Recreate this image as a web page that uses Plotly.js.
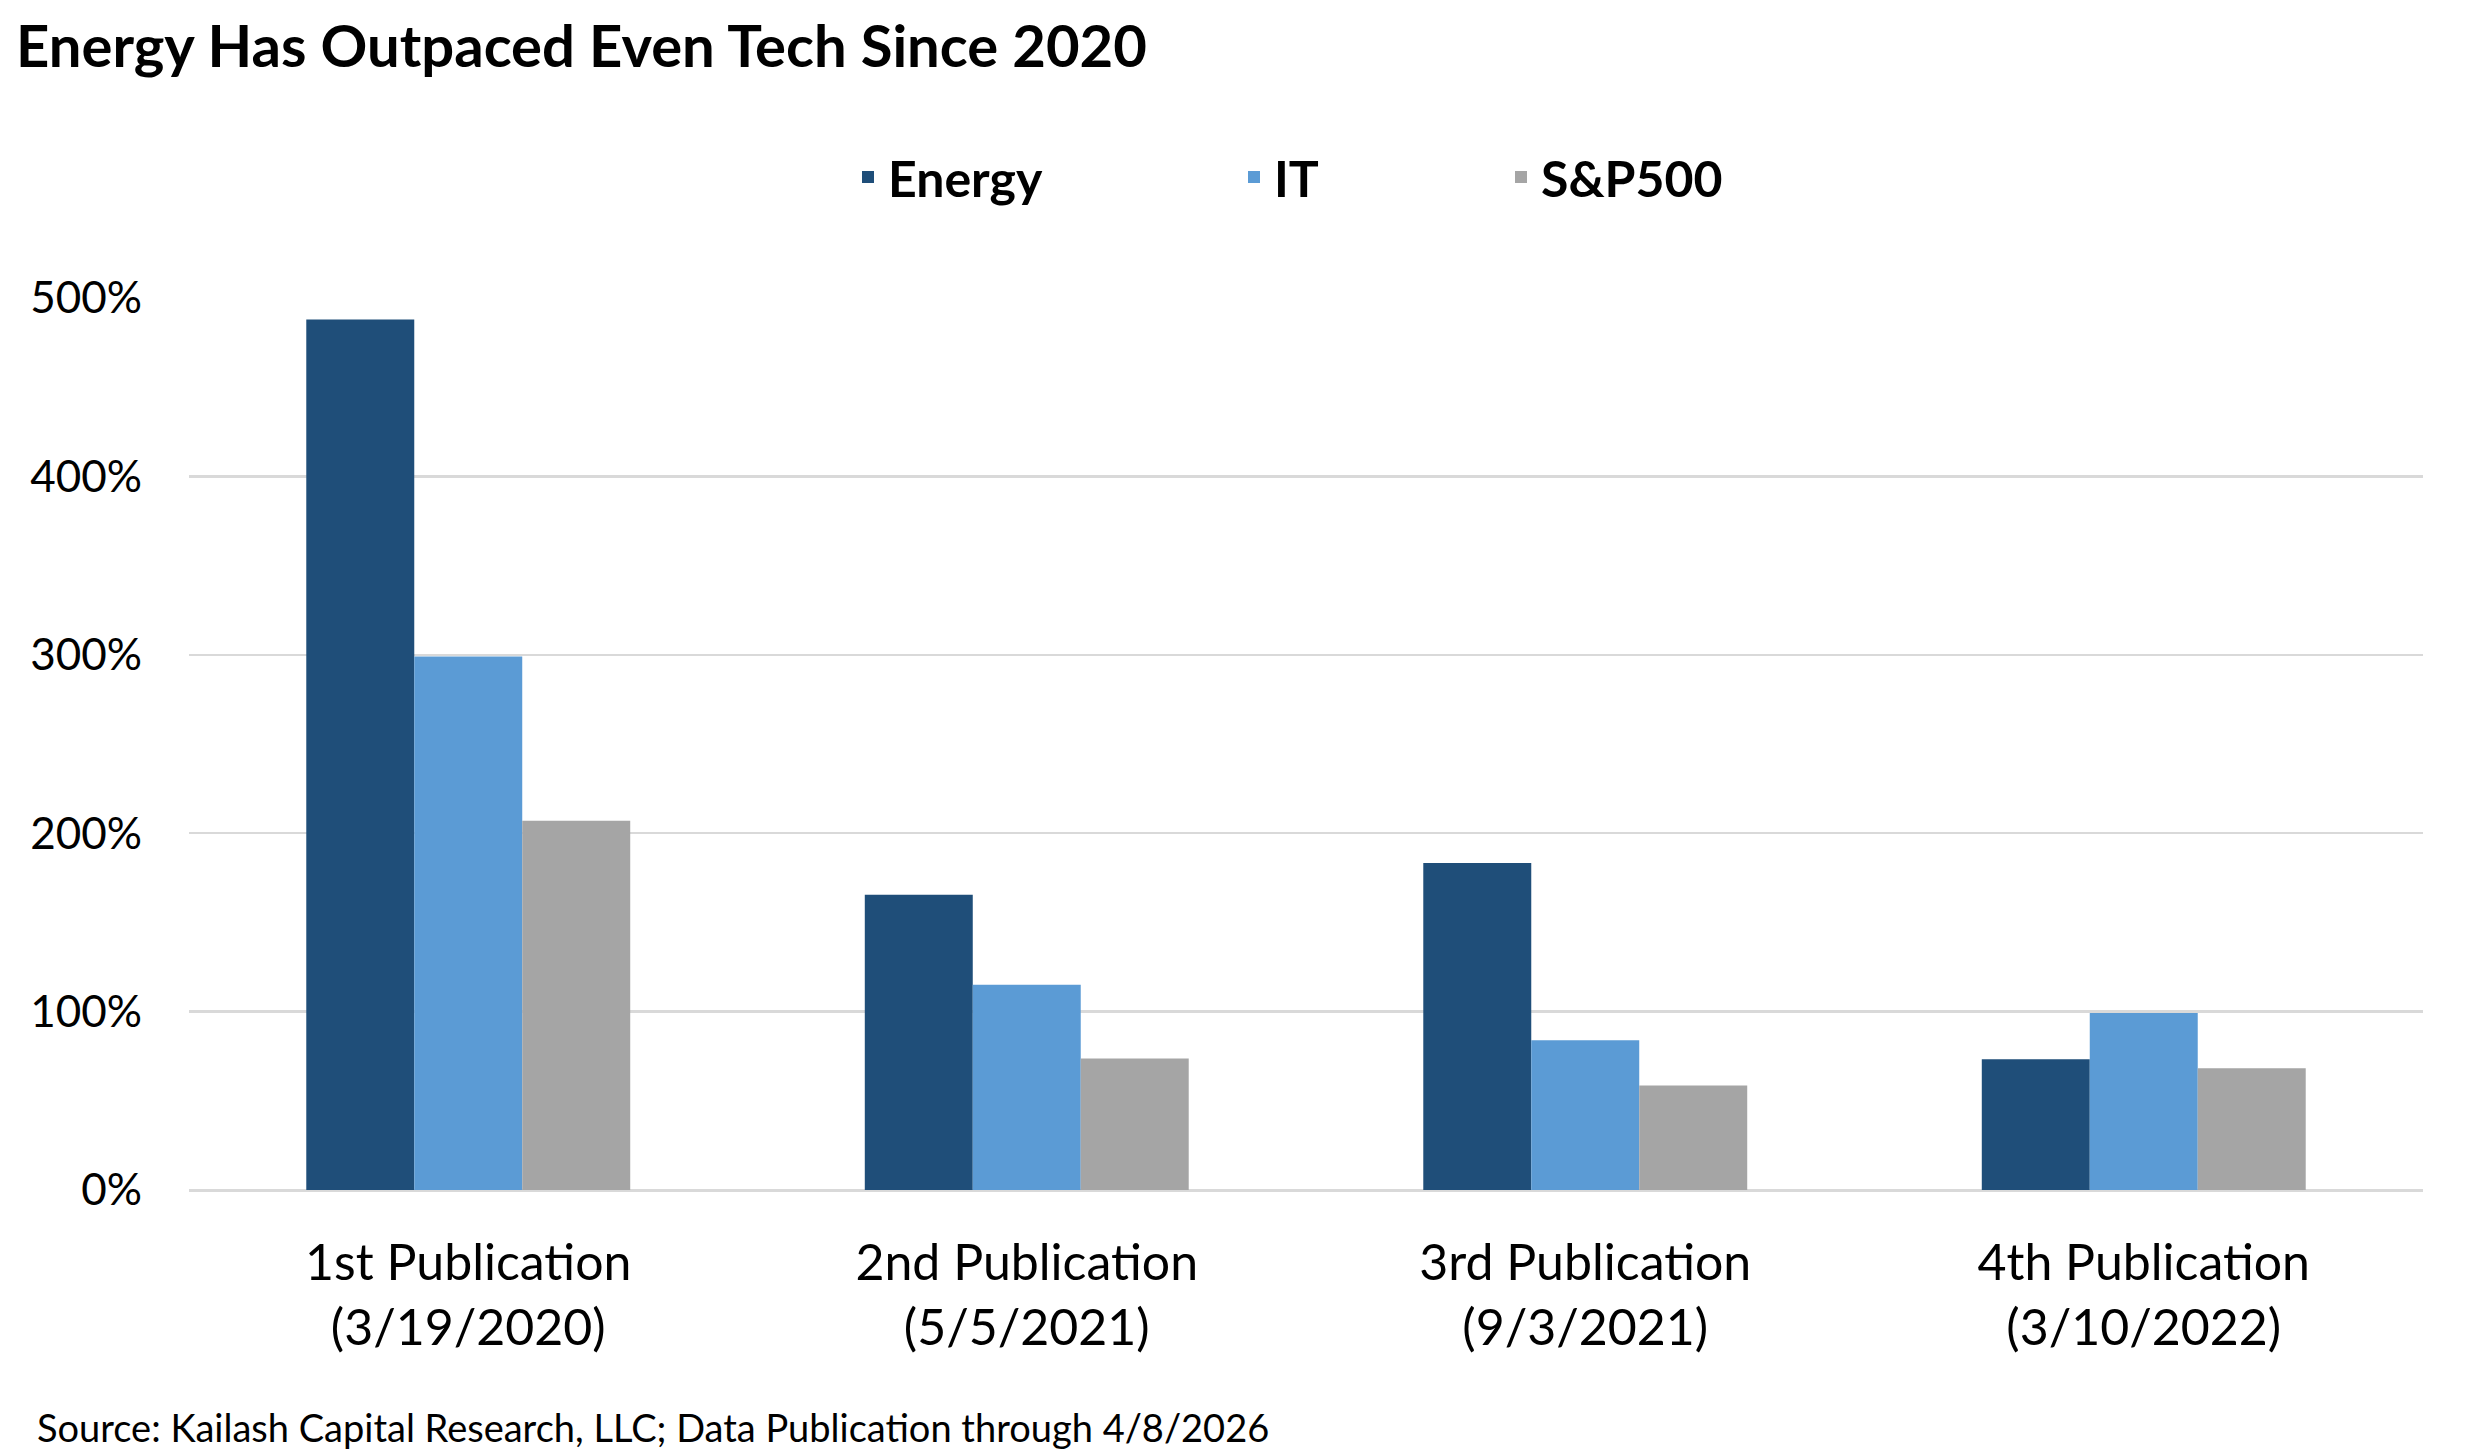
<!DOCTYPE html>
<html>
<head>
<meta charset="utf-8">
<script src="https://cdn.plot.ly/plotly-3.0.1.min.js"></script>
<style>html,body{margin:0;padding:0;background:#fff;}#chart{width:2475px;height:1452px;}</style>
</head>
<body>
<div id="chart"></div>
<script>
const categories = ["1st Publication<br>(3/19/2020)", "2nd Publication<br>(5/5/2021)", "3rd Publication<br>(9/3/2021)", "4th Publication<br>(3/10/2022)"];
const energy = [4.88, 1.655, 1.833, 0.733];
const it = [2.99, 1.15, 0.84, 0.992];
const sp500 = [2.07, 0.737, 0.586, 0.682];
const yTicks = [0, 1, 2, 3, 4, 5];
const yTickText = ["0%", "100%", "200%", "300%", "400%", "500%"];

const FONT = "Lato, 'Open Sans', sans-serif";
const traces = [
  {type: 'bar', name: 'Energy', x: categories, y: energy, marker: {color: '#1F4E79'}, legend: 'legend'},
  {type: 'bar', name: 'IT', x: categories, y: it, marker: {color: '#5B9BD5'}, legend: 'legend2'},
  {type: 'bar', name: 'S&P500', x: categories, y: sp500, marker: {color: '#A5A5A5'}, legend: 'legend3'}
];
const L = 189, R = 52, T = 298, B = 262;
const W = 2475 - L - R, H = 1452 - T - B;
const px2x = p => (p - L) / W;
const py2y = p => (1452 - B - p) / H;
const legBase = {orientation: 'h', yanchor: 'middle', y: py2y(177), xanchor: 'left',
  font: {family: FONT, size: 50, color: '#000', weight: 'bold'}, bgcolor: 'rgba(0,0,0,0)', borderwidth: 0};
const layout = {
  width: 2475, height: 1452,
  margin: {l: L, r: R, t: T, b: B},
  paper_bgcolor: '#fff', plot_bgcolor: '#fff',
  barmode: 'group', bargap: 0.42, bargroupgap: 0,
  title: {text: '<b>Energy Has Outpaced Even Tech Since 2020</b>', font: {family: FONT, size: 58, color: '#000'},
    xref: 'container', x: 16/2475, xanchor: 'left', yref: 'container', y: 1 - 47/1452, yanchor: 'middle'},
  showlegend: true,
  legend: Object.assign({}, legBase, {x: px2x(848)}),
  legend2: Object.assign({}, legBase, {x: px2x(1234)}),
  legend3: Object.assign({}, legBase, {x: px2x(1501)}),
  xaxis: {tickfont: {family: FONT, size: 50, color: '#000'}, ticks: '', showline: false, showgrid: false,
    ticklabelstandoff: 39, fixedrange: true},
  yaxis: {range: [0, 5], tickvals: yTicks, ticktext: yTickText, tickfont: {family: FONT, size: 44, color: '#000'},
    showgrid: true, gridcolor: '#D9D9D9', gridwidth: 2.5, zeroline: true, zerolinecolor: '#D9D9D9', zerolinewidth: 3,
    showline: false, ticks: '', ticklabelstandoff: 46, fixedrange: true},
  annotations: [{text: 'Source: Kailash Capital Research, LLC; Data Publication through 4/8/2026',
    xref: 'paper', yref: 'paper', x: px2x(35), y: py2y(1427), xanchor: 'left', yanchor: 'middle',
    showarrow: false, font: {family: FONT, size: 38, color: '#000'}}]
};
Plotly.newPlot('chart', traces, layout, {displayModeBar: false, staticPlot: true});
</script>
</body>
</html>
